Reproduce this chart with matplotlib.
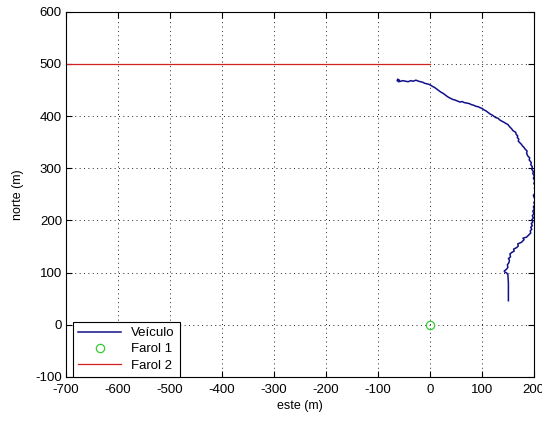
import matplotlib
matplotlib.use("Agg")
import matplotlib.pyplot as plt

plt.rcParams['font.family'] = ['Liberation Sans', 'DejaVu Sans']
plt.rcParams['axes.unicode_minus'] = False

# vehicle track (este, norte)
veiculo_x = [151, 151, 151, 150, 148, 144, 143, 147, 150, 149, 152, 153, 151, 155, 154,
             158, 162, 161, 167, 170, 169, 176, 181, 179, 186, 190, 194, 193, 196, 194,
             197, 195, 198, 196, 199, 197, 200, 198, 201, 199, 202, 200, 203, 201, 199,
             202, 204, 201, 203, 200, 202, 199, 201, 198, 199, 196, 197, 194, 195, 191,
             192, 188, 186, 187, 183, 181, 178, 176, 173, 170, 171, 168, 169, 166, 165,
             160, 157, 153, 150, 146, 143, 139, 134, 131, 127, 124, 120, 116, 112, 108,
             104, 100, 97, 93, 88, 84, 80, 76, 71, 66, 62, 58, 53, 48, 44, 40, 36, 33,
             29, 25, 21, 17, 13, 9, 5, 2, -2, -6, -10, -14, -18, -22, -27, -32, -37, -42,
             -47, -52, -56, -60, -63, -62, -59]
veiculo_y = [46, 60, 80, 96, 99, 101, 103, 106, 110, 115, 119, 124, 127, 130, 136,
             139, 141, 145, 148, 151, 155, 158, 163, 166, 168, 172, 176, 180, 183, 187,
             190, 194, 197, 201, 205, 209, 213, 218, 222, 226, 230, 234, 239, 243, 248,
             252, 257, 262, 266, 271, 276, 281, 285, 290, 294, 298, 303, 307, 311, 316,
             320, 324, 329, 333, 337, 340, 343, 346, 349, 352, 356, 359, 362, 365, 369,
             372, 376, 380, 384, 386, 388, 390, 393, 396, 397, 399, 402, 404, 407, 410,
             412, 415, 416, 418, 419, 421, 422, 424, 425, 426, 428, 427, 429, 431, 432,
             434, 436, 438, 441, 444, 446, 449, 452, 455, 457, 459, 461, 462, 463, 465,
             466, 467, 469, 467, 468, 466, 467, 468, 467, 466, 468, 471, 469]

farol1_x = [0]
farol1_y = [0]
farol2_x = [-700, 0]
farol2_y = [500, 500]

fig = plt.figure(figsize=(5.42, 4.23), dpi=100)
ax = fig.add_axes([0.122, 0.109, 0.863, 0.863])

ax.plot(veiculo_x, veiculo_y, color='#10108a', linewidth=1.1, label='Veículo')
ax.plot(farol1_x, farol1_y, 'o', markerfacecolor='none', markeredgecolor='#33cc33',
        markersize=6, markeredgewidth=0.9, label='Farol 1')
ax.plot(farol2_x, farol2_y, color='#d02020', linewidth=0.9, label='Farol 2')

ax.set_xlim(-700, 200)
ax.set_ylim(-100, 600)
ax.set_xticks(range(-700, 201, 100))
ax.set_yticks(range(-100, 601, 100))
ax.tick_params(direction='in', top=True, right=True, labelsize=9.5, length=4)
ax.tick_params(axis='x', pad=5)
ax.tick_params(axis='y', pad=3)
ax.grid(True, linestyle=(0, (1, 3.5)), color='#222222', linewidth=0.7)
ax.set_xlabel('este (m)', fontsize=9, labelpad=3)
ax.set_ylabel('norte (m)', fontsize=9, labelpad=8)
for s in ax.spines.values():
    s.set_linewidth(0.8)

leg = ax.legend(loc='lower left', bbox_to_anchor=(0.015, 0.0), fontsize=9.5,
                fancybox=False, framealpha=1, edgecolor='black', borderaxespad=0,
                handlelength=3.2, labelspacing=0.3)
leg.get_frame().set_linewidth(0.8)

fig.savefig('out.png', dpi=100)
